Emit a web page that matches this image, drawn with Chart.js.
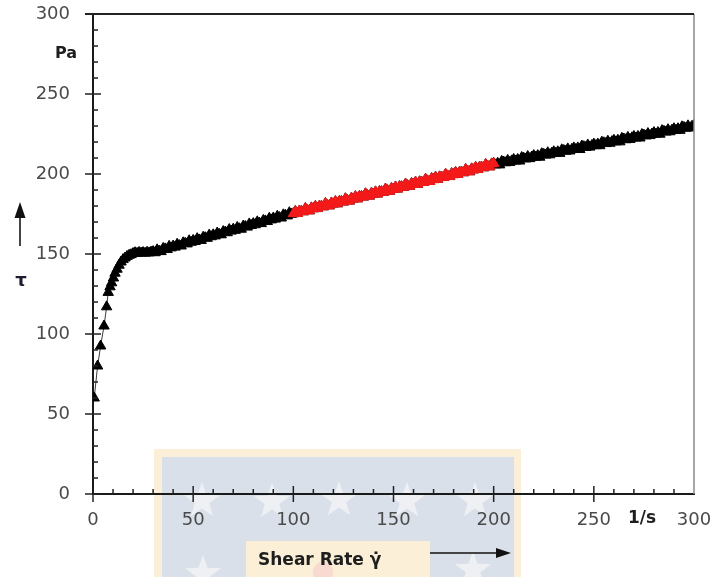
<!DOCTYPE html>
<html>
<head>
<meta charset="utf-8">
<script src="https://cdn.jsdelivr.net/npm/chart.js@4.4.1/dist/chart.umd.min.js"></script>
<style>
  html, body { margin: 0; padding: 0; background: #fff; }
  #wrap { position: relative; width: 710px; height: 577px; }
</style>
</head>
<body>
<div id="wrap"><canvas id="flow-curve"></canvas></div>
<script>
// Flow curve: shear stress tau (Pa) against shear rate (1/s)
const shearRate = [
    0.6, 2.3, 3.8, 5.5, 6.8, 7.6, 8.5, 9.3, 10.2, 11, 12, 13, 14, 15, 16, 17, 18, 19,
    20, 21, 22, 23, 24, 25, 26, 27, 28, 29,
    30, 31, 32, 33, 34, 35, 36, 37, 38, 39, 40, 41, 42, 43, 44, 45, 46, 47, 48, 49,
    50, 51, 52, 53, 54, 55, 56, 57, 58, 59, 60, 61, 62, 63, 64, 65, 66, 67, 68, 69,
    70, 71, 72, 73, 74, 75, 76, 77, 78, 79, 80, 81, 82, 83, 84, 85, 86, 87, 88, 89,
    90, 91, 92, 93, 94, 95, 96, 97, 98, 99, 100, 101, 102, 103, 104, 105, 106, 107, 108, 109,
    110, 111, 112, 113, 114, 115, 116, 117, 118, 119, 120, 121, 122, 123, 124, 125, 126, 127, 128, 129,
    130, 131, 132, 133, 134, 135, 136, 137, 138, 139, 140, 141, 142, 143, 144, 145, 146, 147, 148, 149,
    150, 151, 152, 153, 154, 155, 156, 157, 158, 159, 160, 161, 162, 163, 164, 165, 166, 167, 168, 169,
    170, 171, 172, 173, 174, 175, 176, 177, 178, 179, 180, 181, 182, 183, 184, 185, 186, 187, 188, 189,
    190, 191, 192, 193, 194, 195, 196, 197, 198, 199, 200, 201, 202, 203, 204, 205, 206, 207, 208, 209,
    210, 211, 212, 213, 214, 215, 216, 217, 218, 219, 220, 221, 222, 223, 224, 225, 226, 227, 228, 229,
    230, 231, 232, 233, 234, 235, 236, 237, 238, 239, 240, 241, 242, 243, 244, 245, 246, 247, 248, 249,
    250, 251, 252, 253, 254, 255, 256, 257, 258, 259, 260, 261, 262, 263, 264, 265, 266, 267, 268, 269,
    270, 271, 272, 273, 274, 275, 276, 277, 278, 279, 280, 281, 282, 283, 284, 285, 286, 287, 288, 289,
    290, 291, 292, 293, 294, 295, 296, 297, 298, 299, 300
];
const stress = [
    60, 80, 92.5, 105, 117, 126, 129.5, 132, 135, 138, 140.5, 143, 145, 146.5, 147.5, 148.5, 149.2, 149.6,
    150.3, 150.8, 150.4, 151.0, 150.6, 150.9, 150.5, 151.1, 150.7, 151.2,
    151.5, 150.8, 152.6, 151.8, 151.5, 153.5, 153.2, 152.8, 154.8, 153.8, 155.0, 154.3, 156.1, 155.3, 155.0, 157.0, 156.7, 156.3, 158.3, 157.3,
    158.5, 157.8, 159.6, 158.8, 158.5, 160.5, 160.2, 159.8, 161.8, 160.8, 162.0, 161.3, 163.1, 162.3, 162.0, 164.0, 163.7, 163.3, 165.3, 164.3,
    165.5, 164.8, 166.6, 165.8, 165.5, 167.5, 167.2, 166.8, 168.8, 167.8, 169.0, 168.3, 170.1, 169.3, 169.0, 171.0, 170.7, 170.3, 172.3, 171.3,
    172.5, 171.8, 173.6, 172.8, 172.5, 174.5, 174.2, 173.8, 175.8, 174.8, 175.2, 176.6, 175.3, 176.8, 176.7, 176.4, 178.4, 177.4, 177.0, 178.8,
    178.3, 179.7, 178.4, 179.9, 179.8, 179.5, 181.5, 180.5, 180.1, 181.9, 181.3, 182.7, 181.4, 182.9, 182.8, 182.5, 184.5, 183.5, 183.1, 184.9,
    184.4, 185.8, 184.5, 186.0, 185.9, 185.6, 187.6, 186.6, 186.2, 188.0, 187.4, 188.8, 187.5, 189.0, 188.9, 188.6, 190.6, 189.6, 189.2, 191.0,
    190.5, 191.9, 190.6, 192.1, 192.0, 191.7, 193.7, 192.7, 192.3, 194.1, 193.5, 194.9, 193.6, 195.1, 195.0, 194.7, 196.7, 195.7, 195.3, 197.1,
    196.5, 198.0, 196.7, 198.2, 198.1, 197.8, 199.8, 198.8, 198.4, 200.2, 199.6, 201.0, 199.7, 201.2, 201.1, 200.8, 202.8, 201.8, 201.4, 203.2,
    202.6, 204.1, 202.8, 204.3, 204.2, 203.9, 205.9, 204.9, 204.5, 206.3, 206.7, 205.7, 206.7, 205.7, 207.9, 207.5, 207.0, 208.5, 207.2, 208.2,
    209.1, 208.1, 209.1, 208.1, 210.3, 209.9, 209.4, 210.9, 209.6, 210.6, 211.5, 210.5, 211.5, 210.5, 212.7, 212.3, 211.8, 213.3, 212.0, 213.0,
    213.9, 212.9, 213.9, 212.9, 215.1, 214.7, 214.2, 215.7, 214.4, 215.4, 216.3, 215.3, 216.3, 215.3, 217.5, 217.1, 216.6, 218.1, 216.8, 217.8,
    218.7, 217.7, 218.7, 217.7, 219.9, 219.5, 219.0, 220.5, 219.2, 220.2, 221.1, 220.1, 221.1, 220.1, 222.3, 221.9, 221.4, 222.9, 221.6, 222.6,
    223.5, 222.5, 223.5, 222.5, 224.7, 224.3, 223.8, 225.3, 224.0, 225.0, 225.9, 224.9, 225.9, 224.9, 227.1, 226.7, 226.2, 227.7, 226.4, 227.4,
    228.3, 227.3, 228.3, 227.3, 229.5, 229.1, 228.6, 230.1, 228.8, 229.8, 230.4
];

// shear-rate window used for the linear (Bingham) fit, shown in red
const FIT_FROM = 100;
const FIT_TO   = 200;

const AXIS_MIN   = 0;
const AXIS_MAX   = 300;
const MAJOR_STEP = 50;
const MINOR_STEP = 10;

const points    = shearRate.map((x, i) => ({ x, y: stress[i] }));
const fitPoints = points.filter(p => p.x >= FIT_FROM && p.x <= FIT_TO);

const TICK_FONT = { family: 'DejaVu Sans', size: 18 };
const LABEL_COLOR = '#4a4a4a';

function drawStar(ctx, cx, cy, r) {
    ctx.beginPath();
    for (let i = 0; i < 10; i++) {
        const rad = i % 2 ? r * 0.4 : r;
        const a = -Math.PI / 2 + i * Math.PI / 5;
        ctx.lineTo(cx + rad * Math.cos(a), cy + rad * Math.sin(a));
    }
    ctx.closePath();
    ctx.fill();
}

function arrowHead(ctx, tipX, tipY, dx, dy, len, half) {
    // dx/dy: unit direction the arrow points in
    const bx = tipX - dx * len, by = tipY - dy * len;
    ctx.beginPath();
    ctx.moveTo(tipX, tipY);
    ctx.lineTo(bx - dy * half, by + dx * half);
    ctx.lineTo(bx + dy * half, by - dx * half);
    ctx.closePath();
    ctx.fill();
}

const decorations = {
    id: 'decorations',
    beforeDraw(chart) {
        const ctx = chart.ctx;
        ctx.save();
        // faded crest behind the x-axis title
        ctx.fillStyle = '#fcefd8';
        ctx.fillRect(154, 449, 367, 128);
        ctx.fillStyle = '#d9e0ea';
        ctx.fillRect(162, 457, 352, 120);
        ctx.fillStyle = '#eef0f3';
        [[202, 501], [272, 502], [339, 500], [407, 501], [475, 501], [203, 574], [473, 570]]
            .forEach(([x, y]) => drawStar(ctx, x, y, 19));
        ctx.fillStyle = '#fcefd8';
        ctx.fillRect(246, 541, 184, 36);
        ctx.fillStyle = 'rgba(240, 170, 190, 0.3)';
        ctx.beginPath();
        ctx.ellipse(323, 572, 10, 11, 0.3, 0, Math.PI * 2);
        ctx.fill();
        ctx.restore();
    },
    afterDraw(chart) {
        const ctx = chart.ctx;
        const xs = chart.scales.x, ys = chart.scales.y;
        const { left, right, top, bottom } = chart.chartArea;
        ctx.save();

        // frame: black top edge, grey right edge
        ctx.strokeStyle = '#8a8a8a';
        ctx.lineWidth = 1.5;
        ctx.beginPath();
        ctx.moveTo(right, top);
        ctx.lineTo(right, bottom);
        ctx.stroke();
        ctx.strokeStyle = '#222';
        ctx.lineWidth = 2;
        ctx.beginPath();
        ctx.moveTo(left - 8, top);
        ctx.lineTo(right, top);
        ctx.stroke();

        // major ticks cross the axis, minor ticks point inward
        ctx.strokeStyle = '#222';
        ctx.lineWidth = 1.5;
        for (let v = AXIS_MIN; v <= AXIS_MAX; v += MINOR_STEP) {
            const major = v % MAJOR_STEP === 0;
            const px = xs.getPixelForValue(v);
            const py = ys.getPixelForValue(v);
            ctx.beginPath();
            if (v > AXIS_MIN && v < AXIS_MAX) {
                ctx.moveTo(px, major ? bottom - 8 : bottom - 5);
                ctx.lineTo(px, major ? bottom + 8 : bottom);
            }
            if (v < AXIS_MAX) {
                ctx.moveTo(major ? left - 8 : left, py);
                ctx.lineTo(major ? left + 8 : left + 5, py);
            }
            ctx.stroke();
        }
        // tick under the origin
        ctx.beginPath();
        ctx.moveTo(xs.getPixelForValue(0), bottom);
        ctx.lineTo(xs.getPixelForValue(0), bottom + 8);
        ctx.stroke();

        // unit labels and axis titles
        ctx.fillStyle = '#1e1e1e';
        ctx.textAlign = 'center';
        ctx.textBaseline = 'middle';
        ctx.font = 'bold 16px "DejaVu Sans"';
        ctx.fillText('Pa', 66, 54);
        ctx.font = 'bold 17px "DejaVu Sans"';
        ctx.fillText('1/s', 642, 519);
        ctx.fillStyle = '#1b1d2e';
        ctx.font = 'bold 18px "DejaVu Sans"';
        ctx.fillText('τ', 21, 281);
        ctx.fillStyle = '#1e1e1e';
        ctx.textAlign = 'left';
        ctx.font = 'bold 17px "DejaVu Sans"';
        ctx.fillText('Shear Rate γ\u0307', 258, 561);

        // arrows next to the axis titles
        ctx.strokeStyle = '#444';
        ctx.lineWidth = 2;
        ctx.beginPath();
        ctx.moveTo(20, 246);
        ctx.lineTo(20, 214);
        ctx.moveTo(430, 553);
        ctx.lineTo(498, 553);
        ctx.stroke();
        ctx.fillStyle = '#111';
        arrowHead(ctx, 20, 202, 0, -1, 16, 5.5);
        arrowHead(ctx, 511, 553, 1, 0, 15, 5);
        ctx.restore();
    }
};

new Chart(document.getElementById('flow-curve'), {
    type: 'scatter',
    data: {
        datasets: [
            {
                label: 'tau',
                data: points,
                showLine: true,
                borderColor: '#3a3a3a',
                borderWidth: 1,
                backgroundColor: '#000',
                pointBorderColor: '#000',
                pointStyle: 'triangle',
                pointRadius: 6,
                pointBorderWidth: 1,
                order: 2,
            },
            {
                label: 'fit range',
                data: fitPoints,
                showLine: false,
                backgroundColor: '#f41a1a',
                pointBorderColor: '#f41a1a',
                pointStyle: 'triangle',
                pointRadius: 6,
                pointBorderWidth: 1,
                order: 1,
            },
        ],
    },
    options: {
        responsive: true,
        maintainAspectRatio: false,
        animation: false,
        layout: { padding: { top: 14, right: 16, left: 0, bottom: 0 } },
        plugins: {
            legend: { display: false },
            tooltip: { enabled: false },
        },
        scales: {
            x: {
                type: 'linear',
                min: AXIS_MIN,
                max: AXIS_MAX,
                grid: { display: false },
                border: { display: true, color: '#1a1a1a', width: 2 },
                ticks: {
                    stepSize: MAJOR_STEP,
                    color: LABEL_COLOR,
                    font: TICK_FONT,
                    padding: 8,
                    maxRotation: 0,
                    autoSkip: false,
                },
                afterFit(scale) {
                    scale.height = 83;
                    scale.paddingLeft = 0;
                    scale.paddingRight = 0;
                },
            },
            y: {
                type: 'linear',
                min: AXIS_MIN,
                max: AXIS_MAX,
                grid: { display: false },
                border: { display: true, color: '#1a1a1a', width: 2 },
                ticks: {
                    stepSize: MAJOR_STEP,
                    color: LABEL_COLOR,
                    font: TICK_FONT,
                    padding: 15,
                },
                afterFit(scale) {
                    scale.width = 93;
                    scale.paddingTop = 0;
                    scale.paddingBottom = 0;
                },
            },
        },
    },
    plugins: [decorations],
});
</script>
</body>
</html>
